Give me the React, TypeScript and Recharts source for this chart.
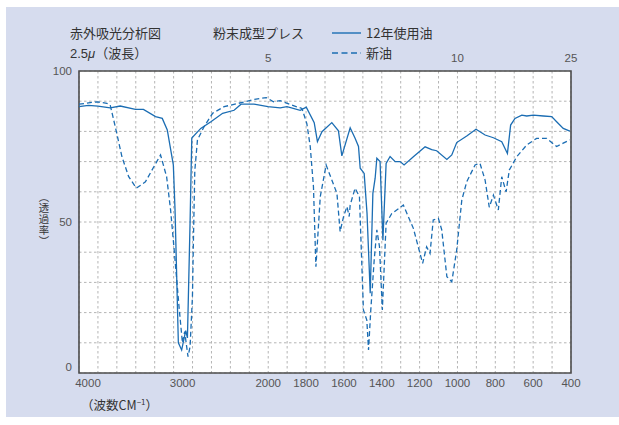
import React from 'react'
import { LineChart, Line, XAxis, YAxis, CartesianGrid, ReferenceArea, ReferenceLine, Legend } from 'recharts'

// 12年使用油 (solid) — wavenumber cm-1 / transmittance %
const USED_WN = [
  4000, 3900, 3800, 3670, 3564, 3404, 3319, 3191, 3120, 3067, 3003, 2985, 2950, 2915, 2872, 2854, 2826, 2808,
  2713, 2606, 2482, 2361, 2287, 2149, 2003, 1937, 1901, 1831, 1799, 1757, 1740, 1716, 1664, 1629, 1611, 1567,
  1541, 1523, 1514, 1493, 1478, 1461, 1447, 1435, 1426, 1409, 1394, 1377, 1356, 1329, 1303, 1282, 1233, 1171,
  1136, 1110, 1056, 1030, 1004, 951, 902, 854, 810, 766, 736, 719, 696, 660, 634, 599, 546, 502, 476, 441, 406,
]
const USED_T = [
  88.2, 88.6, 88.4, 87.8, 88.4, 87.3, 87.3, 84.9, 84.3, 80.5, 68.9, 54, 10, 7.6, 14, 11.6, 50, 77.8,
  81, 83.2, 86, 87, 89, 89, 88.2, 87.8, 88.2, 87, 88, 82.9, 76.6, 79.9, 82.9, 80.2, 71.9, 81.2,
  77.7, 75, 67.8, 66.1, 53, 26.4, 59.5, 64.5, 71.1, 70, 44, 69.4, 71.7, 70, 70, 68.9, 71.6, 74.9,
  74, 73.6, 70.7, 72.2, 76.3, 78.5, 80.7, 78.8, 77.9, 76.6, 72.7, 82.1, 84.3, 85.4, 85.1, 85.4, 85.1, 84.9, 83.2, 81, 80.1,
]

// 新油 (dashed)
const NEW_WN = [
  4000, 3812, 3705, 3670, 3617, 3546, 3475, 3394, 3298, 3209, 3138, 3074, 3032, 2997, 2943, 2907, 2883, 2848,
  2826, 2801, 2790, 2776, 2748, 2677, 2588, 2465, 2287, 2145, 2021, 1972, 1937, 1875, 1822, 1796, 1778, 1761,
  1748, 1725, 1694, 1664, 1637, 1620, 1602, 1584, 1572, 1567, 1541, 1518, 1497, 1479, 1470, 1458, 1440, 1426,
  1412, 1397, 1377, 1347, 1286, 1233, 1184, 1163, 1145, 1128, 1101, 1083, 1056, 1030, 1004, 977, 951, 907,
  881, 854, 832, 810, 784, 766, 743, 726, 687, 634, 582, 529, 476, 441, 406,
]
const NEW_T = [
  89, 89.8, 89.3, 88.7, 81.6, 71.6, 65, 61.2, 63.3, 68.3, 72.2, 65, 54, 41.8, 22, 10, 13.7, 5.4,
  8.7, 25.3, 45, 67, 77.2, 81.6, 86, 88.2, 89.5, 90.6, 91.2, 89.8, 90.2, 88.7, 87.6, 82.6, 75, 61.7,
  35.2, 58.4, 68.9, 63.9, 59.5, 46.8, 51.8, 55.1, 51.8, 55.6, 61.2, 58.4, 20.9, 17.5, 7.6, 20.9, 37.4, 47.4,
  41.8, 20.9, 49.6, 52.8, 55.6, 47.9, 36.3, 41.8, 39.6, 50.7, 51.2, 47.4, 31.9, 30.2, 40.7, 57.3, 63.3, 68.9,
  69.4, 63.9, 54.9, 58.9, 54, 65, 60, 67.2, 71.6, 75.5, 77.7, 77.7, 75, 76.1, 77.2,
]

const SERIES_USED = '12年使用油'
const SERIES_NEW = '新油'

const GRID_WN = [
  4000, 3800, 3600, 3400, 3200, 3000, 2800, 2600, 2400, 2200, 2000, 1900, 1800, 1700, 1600, 1500, 1400,
  1300, 1200, 1100, 1000, 900, 800, 700, 600, 500, 400,
]
const BOTTOM_LABELS = [4000, 3000, 2000, 1800, 1600, 1400, 1200, 1000, 800, 600, 400]
const TOP_WAVELENGTHS = [5, 10, 25]
const Y_GRID = [0, 10, 20, 30, 40, 50, 60, 70, 80, 90, 100]
const Y_LABELS = [0, 50, 100]

// scale doubles below 2000 cm-1
const toPos = (wn: number) => (wn >= 2000 ? (4000 - wn) / 2 : 1000 + (2000 - wn))
const fromPos = (p: number) => (p <= 1000 ? 4000 - 2 * p : 2000 - (p - 1000))

const usedData = USED_WN.map((wn, i) => ({ pos: toPos(wn), t: USED_T[i] }))
const newData = NEW_WN.map((wn, i) => ({ pos: toPos(wn), t: NEW_T[i] }))

const BLUE = '#1b6db3'
const TEXT = '#333'
const JP = '"Noto Sans CJK JP", sans-serif'
const NUM = '"Liberation Sans", Arial, sans-serif'

const BottomTick = (props: any) => {
  const { x, y, payload } = props
  const wn = Math.round(fromPos(payload.value))
  if (!BOTTOM_LABELS.includes(wn)) return <g />
  const dx = wn >= 3000 ? 9 : 0
  return (
    <text x={x + dx} y={y + 14} textAnchor="middle" fontSize={11.5} fill="#555" fontFamily={NUM}>
      {wn}
    </text>
  )
}

const LeftTick = (props: any) => {
  const { x, y, payload } = props
  if (!Y_LABELS.includes(payload.value)) return <g />
  const dy = payload.value === 0 ? -2 : 4
  return (
    <text x={x - 7} y={y + dy} textAnchor="end" fontSize={11.5} fill="#555" fontFamily={NUM}>
      {payload.value}
    </text>
  )
}

const LegendBox = (props: any) => {
  const items = props.payload || []
  return (
    <svg width={130} height={44}>
      {items.map((it: any, i: number) => (
        <g key={it.value}>
          <line
            x1={2} x2={31} y1={11 + i * 20} y2={11 + i * 20}
            stroke={BLUE} strokeWidth={1.4}
            strokeDasharray={it.value === SERIES_NEW ? '6 3.5' : undefined}
          />
          <text x={36} y={16 + i * 20} fontSize={13} fill={TEXT} fontFamily={JP}>{it.value}</text>
        </g>
      ))}
    </svg>
  )
}

export default function App() {
  return (
    <div style={{ position: 'absolute', left: 0, top: 0, width: 619, height: 425, background: '#fff' }}>
      <div style={{ position: 'absolute', left: 6, top: 7, width: 613, height: 410, background: '#d6dcee' }} />
      <div style={{ position: 'absolute', left: 0, top: 0 }}>
        <LineChart width={619} height={425} margin={{ top: 71, right: 48, bottom: 0, left: 0 }}>
          <CartesianGrid
            stroke="#b4b4b4"
            strokeDasharray="2.5 2.5"
            fill="#fff"
            fillOpacity={1}
          />
          <XAxis
            dataKey="pos"
            type="number"
            domain={[0, 2600]}
            ticks={GRID_WN.map(toPos)}
            interval={0}
            tick={BottomTick}
            tickSize={0}
            tickMargin={0}
            axisLine={false}
            tickLine={false}
            height={52}
          />
          <YAxis
            type="number"
            domain={[0, 100]}
            ticks={Y_GRID}
            interval={0}
            tick={LeftTick}
            tickSize={0}
            tickMargin={0}
            axisLine={false}
            tickLine={false}
            width={79}
          />
          <Line
            data={usedData}
            dataKey="t"
            name={SERIES_USED}
            type="linear"
            stroke={BLUE}
            strokeWidth={1.3}
            dot={false}
            isAnimationActive={false}
          />
          <Line
            data={newData}
            dataKey="t"
            name={SERIES_NEW}
            type="linear"
            stroke={BLUE}
            strokeWidth={1.3}
            strokeDasharray="5 3"
            dot={false}
            isAnimationActive={false}
          />
          {/* wavelength scale on top (μ) */}
          {TOP_WAVELENGTHS.map((w) => (
            <ReferenceLine
              key={w}
              x={toPos(10000 / w)}
              stroke="none"
              label={{ value: String(w), position: 'top', offset: 9, fontSize: 11.5, fill: '#555', fontFamily: NUM }}
            />
          ))}
          <ReferenceArea
            x1={0}
            x2={2600}
            y1={0}
            y2={100}
            fill="none"
            stroke="#4d4d4d"
            strokeWidth={1.6}
          />
          <Legend
            layout="vertical"
            align="center"
            verticalAlign="middle"
            content={LegendBox}
            wrapperStyle={{ position: 'absolute', left: 330, top: 22, width: 130, height: 44 }}
          />
        </LineChart>
      </div>
      <svg
        width={619}
        height={425}
        style={{ position: 'absolute', left: 0, top: 0, pointerEvents: 'none' }}
      >
        <text x={70} y={38} fontSize={13} fill={TEXT} fontFamily={JP}>赤外吸光分析図</text>
        <text x={70} y={58} fontSize={13} fill={TEXT} fontFamily={JP}>
          <tspan fontFamily={NUM}>2.5</tspan>
          <tspan fontStyle="italic" fontFamily={NUM}>μ</tspan>
          <tspan>（波長）</tspan>
        </text>
        <text x={213} y={38} fontSize={13} fill={TEXT} fontFamily={JP}>粉末成型プレス</text>
        <text x={81} y={410} fontSize={12.5} fill={TEXT} fontFamily={JP}>
          （波数CM<tspan fontSize={8} dy={-5}>−1</tspan><tspan dy={5}>）</tspan>
        </text>
        <text
          x={44}
          y={192}
          fontSize={10.4}
          fill={TEXT}
          fontFamily={JP}
          style={{ writingMode: 'vertical-rl', textOrientation: 'upright', letterSpacing: '0.6px' }}
        >
          （透過率）
        </text>
      </svg>
    </div>
  )
}
